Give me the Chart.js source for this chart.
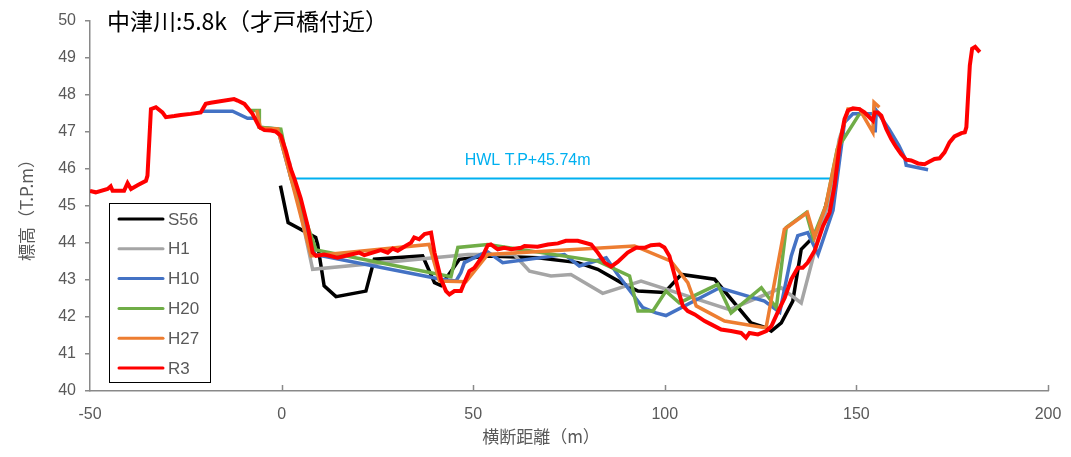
<!DOCTYPE html>
<html>
<head>
<meta charset="utf-8">
<script src="https://cdn.jsdelivr.net/npm/chart.js@4/dist/chart.umd.min.js"></script>
<style>
html,body{margin:0;padding:0;background:#fff;}
#wrap{width:1071px;height:457px;position:relative;}
</style>
</head>
<body>
<div id="wrap"><canvas id="c"></canvas></div>
<script>
// ---- data ----
const titleText = "中津川:5.8k（才戸橋付近）";
const xTitle = "横断距離（m）";
const yTitle = "標高（T.P.m）";
const hwlLabel = "HWL T.P+45.74m";
const seriesNames = ["S56", "H1", "H10", "H20", "H27", "R3"];
const xTicks = [-50, 0, 50, 100, 150, 200];
const yTicks = [40, 41, 42, 43, 44, 45, 46, 47, 48, 49, 50];

const s56X = [-0.3, 1.7, 8.9, 9.4, 11.1, 14.2, 22, 24.2, 36.8, 39.9, 41.6, 44.6, 46.4, 53.8, 66.8, 77.3, 82.5, 88.6, 93, 99.9, 104.3, 113, 122.5, 126.5, 127.8, 130.4, 133.4, 135.6, 138.2, 141, 144, 146.5];
const s56Y = [45.55, 44.55, 44.15, 43.96, 42.84, 42.55, 42.7, 43.56, 43.65, 42.93, 42.85, 43.29, 43.56, 43.65, 43.6, 43.47, 43.29, 42.93, 42.7, 42.66, 43.15, 43.02, 41.84, 41.71, 41.62, 41.84, 42.43, 43.83, 44.1, 44.6, 45.8, 47.0];

const h1X = [2, 5, 8.1, 48.6, 60.7, 64.7, 70.3, 75.5, 83.8, 93.8, 116.9, 130.4, 135.6, 140.4, 143, 145.5, 148];
const h1Y = [46.2, 44.8, 43.29, 43.69, 43.69, 43.24, 43.11, 43.15, 42.64, 42.97, 42.2, 42.79, 42.38, 44.28, 45.2, 46.8, 47.6];

const h10X = [-21, -12.8, -8.9, -6.3, -5.8, -1, 2.4, 8.7, 41.6, 45.5, 46.8, 47.7, 52, 53.8, 57.7, 73.8, 77.7, 84.7, 87.7, 94.3, 97.7, 100.3, 114.3, 126, 130, 133, 134.7, 137.3, 140, 143.9, 146.9, 149.1, 151.7, 154.6, 154.9, 155.2, 158.5, 161.1, 162.6, 163, 168.7];
const h10Y = [47.56, 47.56, 47.37, 47.37, 47.13, 47.08, 45.77, 43.69, 43.02, 42.97, 43.2, 43.47, 43.69, 43.76, 43.47, 43.69, 43.38, 43.6, 43.15, 42.25, 42.11, 42.04, 42.79, 42.43, 42.13, 43.65, 44.2, 44.28, 43.69, 44.88, 47.26, 47.49, 47.49, 47.49, 46.99, 47.58, 47.08, 46.63, 46.31, 46.1, 45.98];

const h20X = [-8, -5.8, -5.8, -0.2, 2.4, 9, 44.2, 46, 53.8, 82.5, 90.8, 93, 96.9, 100.3, 103.8, 113.8, 117.3, 125.2, 129.1, 131.7, 136.9, 138.7, 142, 145, 150.8];
const h20Y = [47.58, 47.58, 47.13, 47.08, 45.77, 43.81, 43.09, 43.88, 43.96, 43.51, 43.11, 42.16, 42.16, 42.7, 42.38, 42.88, 42.11, 42.79, 42.25, 44.42, 44.82, 44.15, 45.0, 46.54, 47.49];

const h27X = [-6.5, -5.5, -1, 2.4, 7.7, 38.5, 41.2, 48.1, 53.8, 92.1, 101.6, 106, 108.2, 115.6, 126, 126.5, 131.2, 137.2, 139.1, 142, 145, 147.8, 150.8, 154.3, 154.6, 156];
const h27Y = [47.6, 47.1, 47.08, 45.77, 43.65, 43.96, 42.97, 42.95, 43.69, 43.92, 43.51, 42.93, 42.3, 41.89, 41.71, 41.75, 44.37, 44.82, 44.15, 45.0, 46.5, 47.62, 47.62, 46.99, 47.8, 47.67];

const r3X = [-50, -48.5, -45.4, -44.6, -44.1, -41.1, -40.2, -39.3, -37.6, -35.4, -35, -34.1, -32.8, -31.1, -30.2, -28, -26.3, -23.7, -21.1, -19.8, -18.5, -12.4, -11.5, -9.7, -7.6, -5.8, -4.5, -2.8, -1.5, -0.2, 1.1, 2.4, 3.3, 5, 6.8, 8.1, 9, 11.1, 14.6, 18.1, 20.3, 21.6, 25.9, 27.7, 29, 30.3, 32, 33.8, 34.6, 35.9, 37.3, 39, 39.9, 41.6, 42.9, 43.8, 45.1, 46.8, 47.7, 49, 50.3, 52.5, 53.8, 54.6, 56.4, 58.1, 59.9, 62.5, 63.4, 66.8, 69.5, 72.1, 74.2, 77.3, 80.8, 82.5, 84.3, 86, 87.7, 90.3, 92.5, 94.7, 96.4, 98.6, 99.9, 101.2, 102.5, 103.8, 104.7, 106, 107.8, 110.4, 112.1, 114.7, 117.3, 119.9, 121.2, 122.1, 124.3, 126.5, 127.8, 129.6, 131.3, 133, 134.7, 136, 137.3, 139.1, 141.3, 143, 144.3, 145.6, 146.9, 147.8, 149.1, 150.8, 152.1, 153.4, 154.3, 154.8, 155.6, 156.5, 157.8, 159.1, 160.4, 161.7, 163, 164.3, 166.1, 167.8, 169.1, 170.4, 171.7, 173, 174.3, 175.6, 177.4, 178.3, 178.7, 179.1, 179.6, 180.2, 181, 182.2];
const r3Y = [45.41, 45.37, 45.46, 45.53, 45.41, 45.41, 45.62, 45.46, 45.56, 45.68, 45.82, 47.62, 47.67, 47.53, 47.4, 47.43, 47.46, 47.49, 47.53, 47.76, 47.79, 47.89, 47.85, 47.76, 47.49, 47.13, 47.05, 47.04, 47.01, 46.9, 46.5, 46.0, 45.75, 45.2, 44.46, 43.74, 43.65, 43.69, 43.6, 43.69, 43.74, 43.67, 43.81, 43.74, 43.85, 43.79, 43.9, 44.01, 44.15, 44.1, 44.24, 44.28, 43.74, 43.02, 42.7, 42.61, 42.7, 42.7, 42.93, 43.24, 43.33, 43.65, 43.94, 43.96, 43.83, 43.87, 43.83, 43.87, 43.92, 43.9, 43.96, 43.99, 44.06, 44.06, 43.96, 43.74, 43.47, 43.36, 43.49, 43.74, 43.87, 43.87, 43.94, 43.96, 43.88, 43.65, 43.15, 42.61, 42.3, 42.16, 42.07, 41.89, 41.8, 41.66, 41.62, 41.57, 41.44, 41.57, 41.53, 41.62, 41.75, 42.16, 42.52, 43.02, 43.33, 43.33, 43.47, 43.79, 44.46, 44.82, 45.55, 46.63, 47.35, 47.58, 47.64, 47.62, 47.53, 47.4, 47.31, 47.53, 47.53, 47.44, 47.08, 46.81, 46.59, 46.4, 46.25, 46.23, 46.15, 46.13, 46.2, 46.27, 46.29, 46.45, 46.72, 46.88, 46.97, 46.99, 47.13, 47.89, 48.8, 49.25, 49.3, 49.16];

const hwlX = [2.4, 145.2];
const hwlY = [45.74, 45.74];

// ---- styles ----
const colors = ["#000000", "#a5a5a5", "#4472c4", "#70ad47", "#ed7d31", "#ff0000"];
const hwlColor = "#00b0f0";
const txtGray = "#595959";
const axisGray = "#898989";
const numFont = "'Liberation Sans Narrow','Liberation Sans',sans-serif";
const cjkFont = "'Noto Sans CJK JP','Noto Sans',sans-serif";

function pts(xs, ys) { return xs.map((x, i) => ({ x: x, y: ys[i] })); }
const seriesX = [s56X, h1X, h10X, h20X, h27X, r3X];
const seriesY = [s56Y, h1Y, h10Y, h20Y, h27Y, r3Y];

const datasets = seriesNames.map((name, i) => ({
  label: name,
  data: pts(seriesX[i], seriesY[i]),
  borderColor: colors[i],
  backgroundColor: colors[i],
  borderWidth: name === "R3" ? 4 : 3.5,
  pointRadius: 0,
  tension: 0,
  fill: false,
  order: seriesNames.length - i
}));
datasets.push({
  label: "HWL",
  data: pts(hwlX, hwlY),
  borderColor: hwlColor,
  borderWidth: 2,
  pointRadius: 0,
  tension: 0,
  fill: false,
  order: 10
});

const overlay = {
  id: "overlay",
  afterDraw(chart) {
    const ctx = chart.ctx;
    const xs = chart.scales.x, ys = chart.scales.y;
    const area = chart.chartArea;
    ctx.save();
    // inner x ticks
    ctx.strokeStyle = axisGray;
    ctx.lineWidth = 1.5;
    xTicks.forEach(v => {
      if (v === xs.min) return;
      const px = Math.round(xs.getPixelForValue(v)) + 0.5;
      ctx.beginPath();
      ctx.moveTo(px, area.bottom);
      ctx.lineTo(px, area.bottom - 6);
      ctx.stroke();
    });
    // title
    ctx.fillStyle = "#000";
    ctx.font = "23px " + cjkFont;
    ctx.textAlign = "left";
    ctx.textBaseline = "middle";
    ctx.fillText(titleText, 107, 21);
    // axis titles
    ctx.fillStyle = txtGray;
    ctx.font = "17px " + cjkFont;
    ctx.textAlign = "center";
    ctx.fillText(xTitle, 541, 437);
    ctx.save();
    ctx.translate(27, 206);
    ctx.rotate(-Math.PI / 2);
    ctx.fillText(yTitle, 0, 0);
    ctx.restore();
    // HWL label
    ctx.fillStyle = hwlColor;
    ctx.font = "16px " + numFont;
    ctx.textAlign = "center";
    ctx.fillText(hwlLabel, xs.getPixelForValue(64.2), ys.getPixelForValue(46.22));
    // legend
    const bx = 109.5, by = 203.5, bw = 101, bh = 179;
    ctx.fillStyle = "#fff";
    ctx.fillRect(bx, by, bw, bh);
    ctx.strokeStyle = "#000";
    ctx.lineWidth = 1;
    ctx.strokeRect(bx, by, bw, bh);
    ctx.font = "17px " + numFont;
    ctx.textAlign = "left";
    seriesNames.forEach((name, i) => {
      const yy = 219 + i * 29.8;
      ctx.strokeStyle = colors[i];
      ctx.lineWidth = 3;
      ctx.lineCap = "round";
      ctx.beginPath();
      ctx.moveTo(119, yy);
      ctx.lineTo(163, yy);
      ctx.stroke();
      ctx.fillStyle = txtGray;
      ctx.fillText(name, 168, yy + 1);
    });
    ctx.restore();
  }
};

new Chart(document.getElementById("c"), {
  type: "line",
  data: { datasets: datasets },
  options: {
    responsive: true,
    maintainAspectRatio: false,
    animation: false,
    devicePixelRatio: 1,
    layout: { padding: { left: 0, top: 21, right: 23, bottom: 0 } },
    plugins: { legend: { display: false }, tooltip: { enabled: false }, title: { display: false } },
    scales: {
      x: {
        type: "linear",
        min: xTicks[0], max: xTicks[xTicks.length - 1],
        afterBuildTicks(s) { s.ticks = xTicks.map(v => ({ value: v })); },
        afterFit(s) { s.height = 66; },
        grid: { display: true, drawOnChartArea: false, drawTicks: true, tickLength: 12, color: "rgba(0,0,0,0)" },
        border: { display: true, color: axisGray, width: 1.5 },
        ticks: { padding: 2, color: txtGray, font: { family: numFont, size: 16 }, maxRotation: 0 }
      },
      y: {
        min: yTicks[0], max: yTicks[yTicks.length - 1],
        afterBuildTicks(s) { s.ticks = yTicks.map(v => ({ value: v })); },
        afterFit(s) { s.width = 90; },
        grid: { display: true, drawOnChartArea: false, drawTicks: true, tickLength: 5, color: axisGray, lineWidth: 1.5 },
        border: { display: true, color: axisGray, width: 1.5 },
        ticks: { padding: 9, color: txtGray, font: { family: numFont, size: 16 } }
      }
    }
  },
  plugins: [overlay]
});
</script>
</body>
</html>
